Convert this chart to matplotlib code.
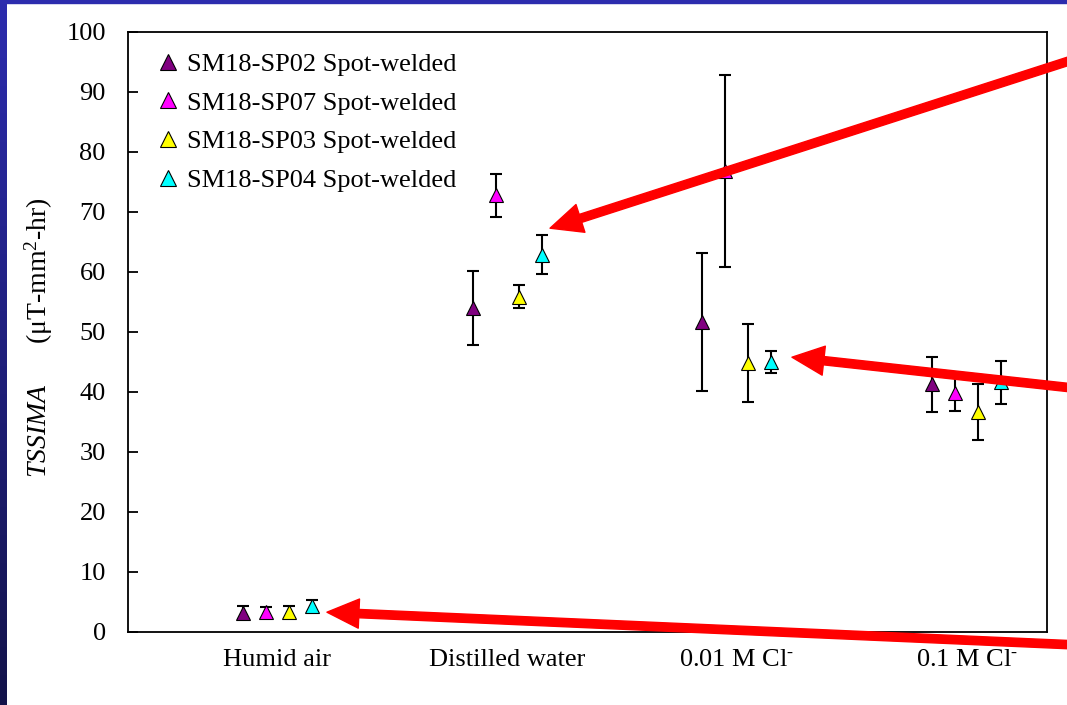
import numpy as np
import matplotlib
matplotlib.use("Agg")
import matplotlib.pyplot as plt
from matplotlib.patches import Rectangle
from matplotlib.colors import LinearSegmentedColormap

plt.rcParams['font.family'] = ['Liberation Serif', 'DejaVu Serif']
plt.rcParams['mathtext.fontset'] = 'custom'
plt.rcParams['mathtext.rm'] = 'Liberation Serif'
plt.rcParams['mathtext.it'] = 'Liberation Serif:italic'

# ---- data ----
categories = ["Humid air", "Distilled water", r"0.01 M Cl$^{\text{-}}$", r"0.1 M Cl$^{\text{-}}$"]
series_names = ["SM18-SP02 Spot-welded", "SM18-SP07 Spot-welded",
                "SM18-SP03 Spot-welded", "SM18-SP04 Spot-welded"]
sp02 = [3.2, 54.0, 51.6, 41.3]
sp07 = [3.3, 72.8, 76.8, 39.8]
sp03 = [3.4, 55.9, 44.8, 36.7]
sp04 = [4.3, 62.9, 45.0, 41.6]
sp02_err = [1.1, 6.1, 11.5, 4.6]
sp07_err = [0.9, 3.6, 16.0, 2.9]
sp03_err = [1.0, 1.9, 6.5, 4.7]
sp04_err = [1.0, 3.2, 1.8, 3.6]
colors = ["#800080", "#ff00ff", "#ffff00", "#00ffff"]
yticks = list(range(0, 101, 10))

values = [sp02, sp07, sp03, sp04]
errors = [sp02_err, sp07_err, sp03_err, sp04_err]

W, H = 1067, 705
fig = plt.figure(figsize=(W / 100, H / 100), dpi=100, facecolor="white")

# blue slide border
grad_ax = fig.add_axes([0, 0, 7 / W, 1])
grad = np.linspace(0, 1, 256).reshape(-1, 1)
cmap = LinearSegmentedColormap.from_list("b", ["#13134a", "#2c2cae"])
grad_ax.imshow(grad, aspect="auto", cmap=cmap, origin="lower", extent=[0, 1, 0, 1])
grad_ax.set_axis_off()
fig.patches.append(Rectangle((0, 1 - 3 / H), 1, 3 / H, transform=fig.transFigure,
                             color="#2c2cae", zorder=0))

ax = fig.add_axes([128 / W, (H - 632) / H, (1047 - 128) / W, (632 - 32) / H])
ax.set_xlim(0, 4)
ax.set_ylim(0, 100)

base = np.arange(len(categories)) + 0.5
for j, (vals, errs, c, name) in enumerate(zip(values, errors, colors, series_names)):
    x = base + 0.1 * j
    ax.errorbar(x, vals, yerr=errs, fmt="none", ecolor="black", elinewidth=1.5,
                capsize=4.3, capthick=1.5, zorder=2)
    ax.plot(x, vals, linestyle="none", marker="^", markersize=10, markerfacecolor=c,
            markeredgecolor="black", markeredgewidth=0.8, label=name, zorder=3)

ax.set_yticks(yticks)
ax.tick_params(axis="y", direction="in", length=7.5, width=1.3, labelsize=19, pad=16)
ax.set_xticks(np.arange(len(categories)) + 0.65)
ax.set_xticklabels(categories, fontsize=19)
ax.tick_params(axis="x", length=0, pad=12.5)
for s in ax.spines.values():
    s.set_linewidth(1.3)
    s.set_color("black")

ax.set_ylabel(r"$\mathit{TSSIMA}$      (μT-mm$^2$-hr)", fontsize=20)
ax.yaxis.set_label_coords(-0.079, 0.49)

leg = ax.legend(loc="upper left", bbox_to_anchor=(0.015, 0.997), frameon=False,
                fontsize=19, handlelength=0.6, handletextpad=0.4, labelspacing=0.58,
                borderaxespad=0.3, markerscale=1.1)

# red arrows pointing at selected points
def fig_pix(px, py):
    return (px, H - py)

arrow_kw = dict(arrowstyle="simple,head_length=2.3,head_width=2.1,tail_width=0.6",
                color="red", shrinkA=0, shrinkB=0, mutation_scale=10)
targets = [
    ((base[1] + 0.3 + 0.037, 67.3), fig_pix(1100, 51)),
    ((base[2] + 0.3 + 0.09, 45.8), fig_pix(1100, 391)),
    ((base[0] + 0.3 + 0.066, 3.3), fig_pix(1100, 646)),
]
for tip, tail in targets:
    ann = ax.annotate("", xy=tip, xycoords="data", xytext=tail,
                      textcoords="figure pixels", arrowprops=arrow_kw,
                      annotation_clip=False)
    ann.set_zorder(10)
    ann.set_clip_on(False)

fig.savefig("out.png", dpi=100, facecolor="white")
